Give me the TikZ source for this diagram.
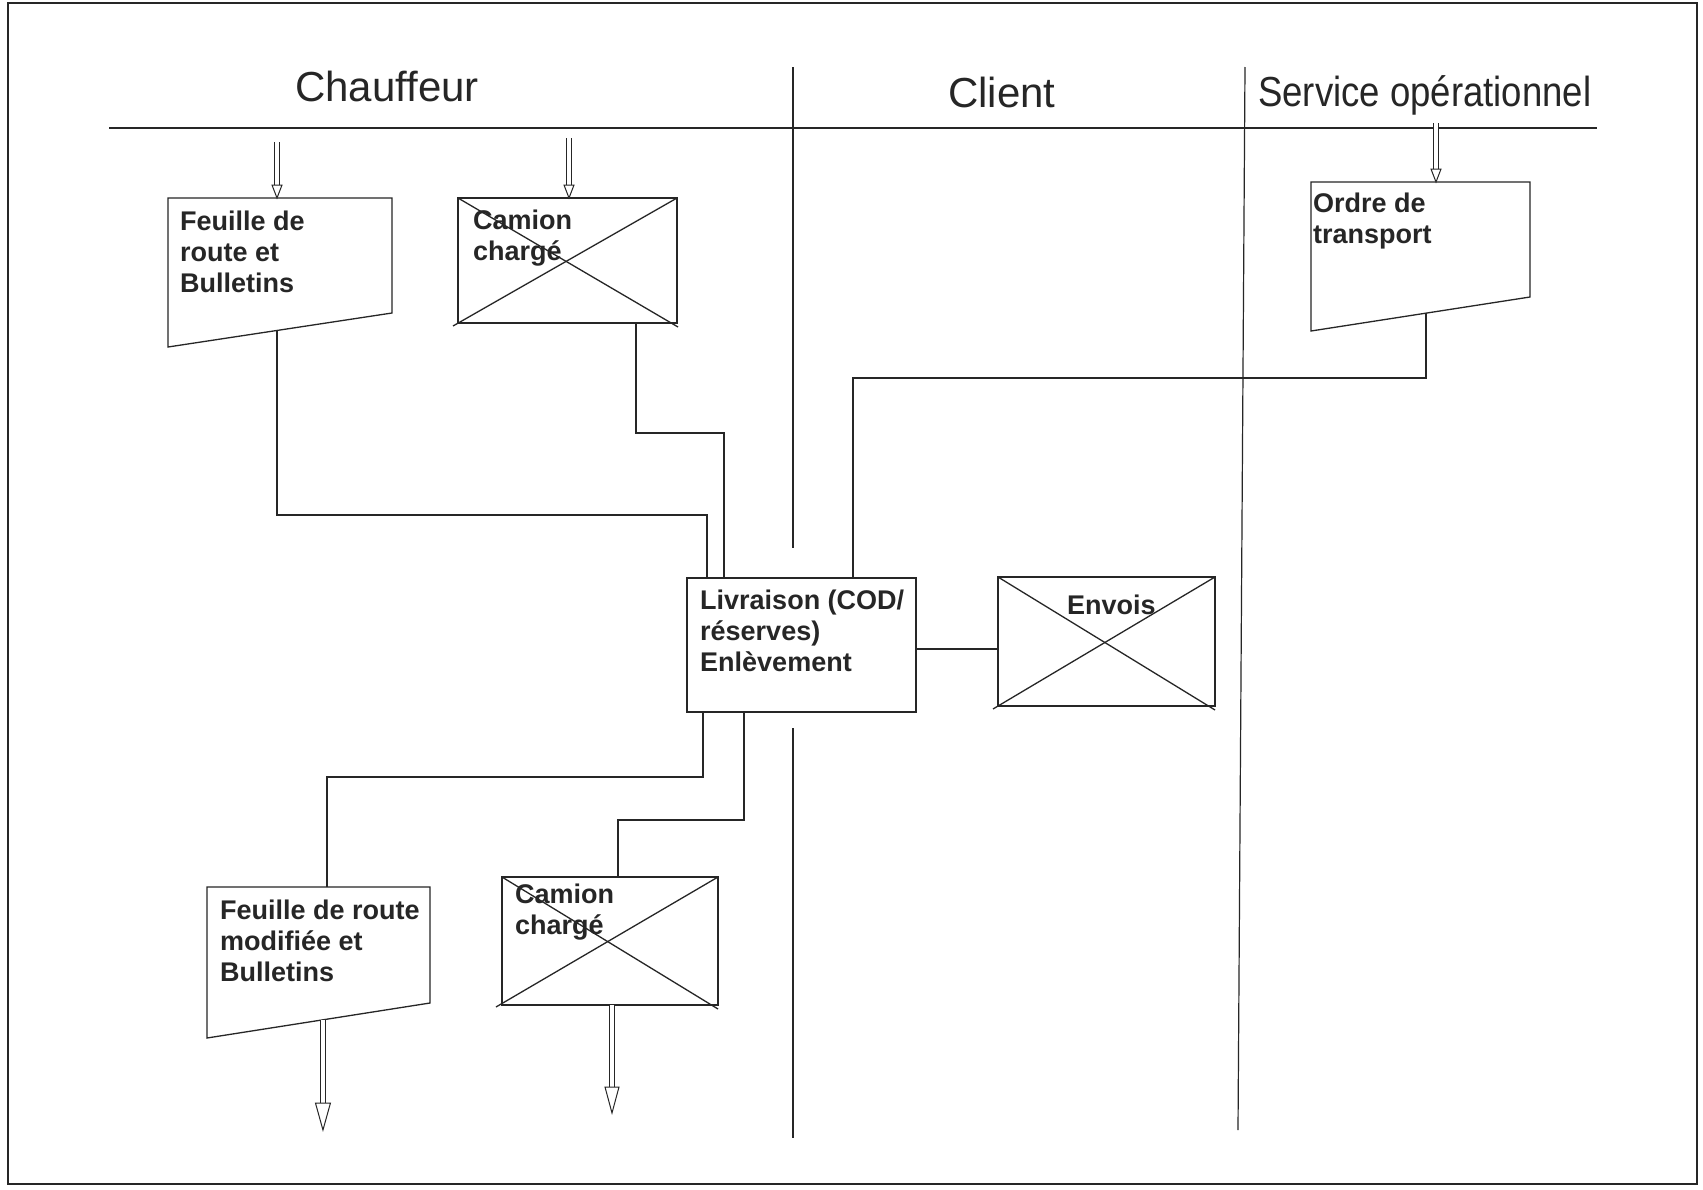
\documentclass[tikz,border=0pt]{standalone}
\usepackage{fontspec}
\setmainfont{Liberation Sans}
\usetikzlibrary{calc}
% hollow double-shafted arrow: #1 start, #2 tip, #3 head length, #4 half head width
\newcommand\hollowarrow[4]{%
  \draw[shaft] (#1) -- ($(#2)+(0,-#3)$);
  \draw[head] ($(#2)+(-#4,-#3)$) -- (#2) -- ($(#2)+(#4,-#3)$) -- cycle;}
\begin{document}
\begin{tikzpicture}[x=1pt,y=-1pt,
  ink/.style={draw=black!85, line width=1.3pt},
  lane/.style={draw=black!85, line width=1.2pt},
  plainbox/.style={ink, fill=white, rectangle, anchor=north west, inner sep=0pt, outer sep=0pt},
  % multi-line labels are placed by the baseline of their last line
  boxtext/.style={anchor=base west, align=left, inner sep=0pt, font=\fontsize{27}{31}\selectfont\bfseries, text=black!85},
  title/.style={anchor=base west, inner sep=0pt, font=\fontsize{42}{48}\selectfont, text=black!85},
  shaft/.style={draw=black!85, line width=1pt, double=white, double distance=3.2pt},
  head/.style={draw=black!85, line width=1pt, fill=white, line join=miter},
]
\useasboundingbox (0,0) rectangle (1703,1189);
\fill[white] (0,0) rectangle (1703,1189);
\draw[line width=2.2pt, draw=black!85] (8,3) rectangle (1697,1184);

% lane titles
\node[title] (tch) at (295,101) {Chauffeur};
\node[title] (tcl) at (948,107) {Client};
\node[title] (tso) at (1258,106) {\scalebox{0.87}[1]{Service opérationnel}};

% lane separators
\coordinate (hl) at (109,128);
\coordinate (hr) at (1597,128);
\draw[ink, line width=1.8pt] (hl) -- (hr);
\coordinate (v1a) at (793,67);
\coordinate (v1b) at (793,548);
\coordinate (v1c) at (793,728);
\coordinate (v1d) at (793,1138);
\draw[lane] (v1a) -- (v1b);
\draw[lane] (v1c) -- (v1d);
\coordinate (v2a) at (1245,67);
\coordinate (v2b) at (1238,1130);
\draw[lane] (v2a) -- (v2b);

% document: Feuille de route et Bulletins
\coordinate (f1nw) at (168,198);
\coordinate (f1ne) at (392,198);
\coordinate (f1se) at (392,313);
\coordinate (f1sw) at (168,347);
\draw[ink, fill=white] (f1nw) -- (f1ne) -- (f1se) -- (f1sw) -- cycle;
\node[boxtext] (f1t) at (180,292) {Feuille de\\route et\\Bulletins};
\coordinate (f1out) at ($(f1sw)!0.487!(f1se)$);

% crossed store: Camion chargé (in)
\node[plainbox, minimum width=219pt, minimum height=125pt] (c1) at (458,198) {};
\draw[ink] (c1.north west) -- ($(c1.south east)+(1,4)$);
\draw[ink] ($(c1.south west)+(-5,3)$) -- (c1.north east);
\node[boxtext] (c1t) at (473,260) {Camion\\chargé};
\coordinate (c1out) at ($(c1.south east)+(-41,0)$);

% document: Ordre de transport
\coordinate (o1nw) at (1311,182);
\coordinate (o1ne) at (1530,182);
\coordinate (o1se) at (1530,297);
\coordinate (o1sw) at (1311,331);
\draw[ink, fill=white] (o1nw) -- (o1ne) -- (o1se) -- (o1sw) -- cycle;
\node[boxtext] (o1t) at (1313,243) {Ordre de\\transport};
\coordinate (o1out) at ($(o1sw)!0.525!(o1se)$);

% process: Livraison
\node[plainbox, minimum width=229pt, minimum height=134pt] (liv) at (687,578) {};
\node[boxtext] (livt) at (700,671) {Livraison (COD/\\réserves)\\Enlèvement};

% crossed store: Envois
\node[plainbox, minimum width=217pt, minimum height=129pt] (env) at (998,577) {};
\draw[ink] (env.north west) -- ($(env.south east)+(0,4)$);
\draw[ink] ($(env.south west)+(-5,3)$) -- (env.north east);
\node[boxtext] (envt) at (1067,614) {Envois};

% document: Feuille de route modifiée et Bulletins
\coordinate (f2nw) at (207,887);
\coordinate (f2ne) at (430,887);
\coordinate (f2se) at (430,1003);
\coordinate (f2sw) at (207,1038);
\draw[ink, fill=white] (f2nw) -- (f2ne) -- (f2se) -- (f2sw) -- cycle;
\node[boxtext] (f2t) at (220,981) {Feuille de route\\modifiée et\\Bulletins};
\coordinate (f2out) at ($(f2sw)!0.52!(f2se)$);

% crossed store: Camion chargé (out)
\node[plainbox, minimum width=216pt, minimum height=128pt] (c2) at (502,877) {};
\draw[ink] (c2.north west) -- ($(c2.south east)+(0,4)$);
\draw[ink] ($(c2.south west)+(-6,2)$) -- (c2.north east);
\node[boxtext] (c2t) at (515,934) {Camion\\chargé};

% connectors into Livraison
\coordinate (ja) at (707,515);
\coordinate (jb) at (724,433);
\coordinate (jc) at (853,378);
\draw[ink] (f1out) |- (ja) -- (ja |- liv.north);
\draw[ink] (c1out) |- (jb) -- (jb |- liv.north);
\draw[ink] (o1out) |- (jc) -- (jc |- liv.north);
\coordinate (le) at ($(liv.east)+(0,4)$);
\draw[ink] (le) -- (le -| env.west);

% connectors out of Livraison
\coordinate (lo1) at ($(liv.south west)+(16,0)$);
\coordinate (lo2) at ($(liv.south west)+(57,0)$);
\coordinate (jd) at (327,777);
\coordinate (je) at (618,820);
\draw[ink] (lo1) |- (jd) -- (jd |- f2nw);
\draw[ink] (lo2) |- (je) -- (je |- c2.north);

% incoming and outgoing flows
\coordinate (a1s) at (277,142);
\coordinate (a1t) at (a1s |- f1nw);
\hollowarrow{a1s}{a1t}{13}{5}
\coordinate (a2s) at (569,138);
\coordinate (a2t) at (a2s |- c1.north);
\hollowarrow{a2s}{a2t}{13}{5}
\coordinate (a3s) at (1436,123);
\coordinate (a3t) at (a3s |- o1nw);
\hollowarrow{a3s}{a3t}{13}{5}
\coordinate (a4t) at (f2out |- 0,1130);
\hollowarrow{f2out}{a4t}{27}{7.5}
\coordinate (a5s) at ($(c2.south)+(2,0)$);
\coordinate (a5t) at (a5s |- 0,1113);
\hollowarrow{a5s}{a5t}{26}{7}
\end{tikzpicture}
\end{document}
